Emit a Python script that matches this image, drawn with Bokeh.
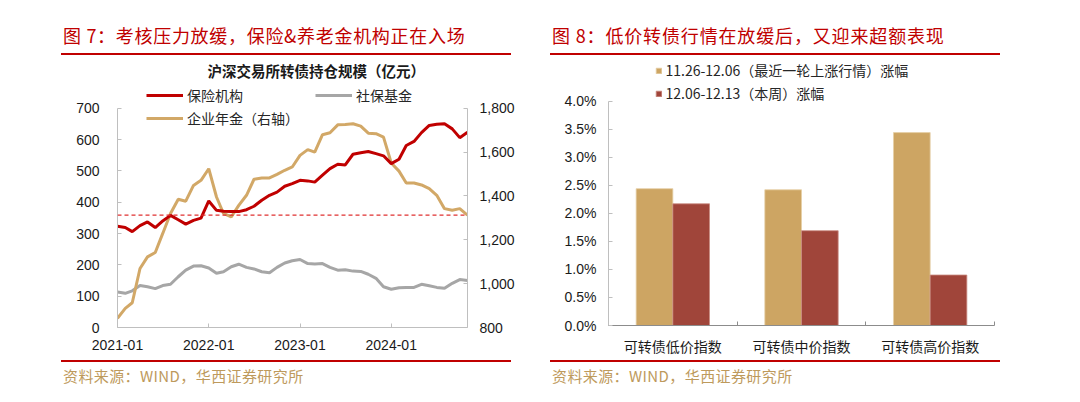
import datetime as dt
from bokeh.plotting import figure
from bokeh.models import (Range1d, LinearAxis, FixedTicker, NumeralTickFormatter,
                          DatetimeTickFormatter, Span, Label, Legend, LegendItem,
                          ColumnDataSource, Div)
from bokeh.layouts import row, column
from bokeh.embed import file_html
from bokeh.resources import INLINE

# ---------------- data ----------------
months = [dt.datetime(2021 + (i // 12), i % 12 + 1, 1) for i in range(47)]  # 2021-01 .. 2024-11
insurance = [323, 319, 306, 325, 337, 319, 340, 358, 344, 330, 342, 349,
             404, 374, 371, 370, 370, 376, 387, 406, 422, 432, 451, 459,
             470, 468, 464, 486, 507, 521, 519, 553, 558, 562, 555, 548,
             523, 537, 581, 594, 622, 645, 649, 650, 634, 606, 623]
social = [113, 109, 117, 134, 130, 124, 134, 138, 162, 183, 196, 197,
          190, 173, 178, 194, 202, 192, 187, 178, 175, 192, 206, 213,
          217, 204, 203, 204, 192, 183, 184, 180, 179, 170, 157, 130,
          122, 127, 128, 128, 138, 133, 128, 125, 141, 153, 150]
annuity = [842, 887, 913, 1069, 1122, 1142, 1229, 1320, 1385, 1376, 1448, 1471,
           1524, 1395, 1320, 1304, 1357, 1403, 1476, 1482, 1482, 1498, 1517, 1532,
           1585, 1611, 1600, 1679, 1688, 1724, 1726, 1729, 1718, 1686, 1684, 1668,
           1550, 1513, 1459, 1459, 1450, 1433, 1403, 1342, 1335, 1342, 1312]
year_ticks = [dt.datetime(2021, 1, 1), dt.datetime(2022, 1, 1),
              dt.datetime(2023, 1, 1), dt.datetime(2024, 1, 1)]
left_ticks = [0, 100, 200, 300, 400, 500, 600, 700]
right_ticks = [800, 1000, 1200, 1400, 1600, 1800]

categories = ["可转债低价指数", "可转债中价指数", "可转债高价指数"]
rally = [0.0244, 0.0242, 0.0344]      # 11.26-12.06
week = [0.0217, 0.0169, 0.0090]       # 12.06-12.13
pct_ticks = [0, 0.005, 0.01, 0.015, 0.02, 0.025, 0.03, 0.035, 0.04]

names = {"ins": "保险机构", "soc": "社保基金", "ann": "企业年金（右轴）",
         "rally": "11.26-12.06（最近一轮上涨行情）涨幅", "week": "12.06-12.13（本周）涨幅"}
title_l = "图 7：考核压力放缓，保险&养老金机构正在入场"
title_r = "图 8：低价转债行情在放缓后，又迎来超额表现"
chart_title_l = "沪深交易所转债持仓规模（亿元）"
source_txt = "资料来源：WIND，华西证券研究所"

RED = "#C00000"
GOLD_LINE = "#D2A867"
GRAY_LINE = "#A6A6A6"
BAR_GOLD = "#CDA563"
BAR_RED = "#A0453A"
SRC_COL = "#BE9A5C"
CJK = "Noto Sans CJK SC"
LAT = "Liberation Sans"
AX = "#BFBFBF"
TXT = "#1a1a1a"

PW = 540            # panel width
TOP_H = 58          # header div height
FIG_H = 300         # figure height
BOT_H = 402 - TOP_H - FIG_H
FT = 2              # frame top inside figure
FB = 269            # frame bottom inside figure (page y 327)
FRAME_H = FB - FT


def ms(d):
    return (d - dt.datetime(1970, 1, 1)).total_seconds() * 1000.0


def header(title, x_text, x0, x1, spacing):
    html = (f'<div style="position:relative;width:{PW}px;height:{TOP_H}px;">'
            f'<div style="position:absolute;left:{x_text}px;top:25px;font-family:\'{CJK}\';'
            f'font-size:18px;line-height:20px;color:{RED};white-space:nowrap;'
            f'letter-spacing:{spacing}px;">{title}</div>'
            f'<div style="position:absolute;left:{x0}px;top:53px;width:{x1 - x0}px;height:2px;'
            f'background:{RED};"></div></div>')
    return Div(text=html, width=PW, height=TOP_H, margin=0)


def footer(x_text, x0, x1):
    html = (f'<div style="position:relative;width:{PW}px;height:{BOT_H}px;">'
            f'<div style="position:absolute;left:{x0}px;top:2px;width:{x1 - x0}px;height:2px;'
            f'background:{RED};"></div>'
            f'<div style="position:absolute;left:{x_text}px;top:9px;font-family:\'{CJK}\';'
            f'font-size:15px;line-height:18px;color:{SRC_COL};white-space:nowrap;'
            f'letter-spacing:0.4px;">{source_txt}</div>'
            f'</div>')
    return Div(text=html, width=PW, height=BOT_H, margin=0)


def style_axis(ax, standoff, color=AX, font=LAT):
    ax.axis_line_color = color
    ax.major_tick_line_color = color
    ax.major_tick_in = 4
    ax.major_tick_out = 0
    ax.minor_tick_line_color = None
    ax.major_label_text_font = font
    ax.major_label_text_font_size = "14px"
    ax.major_label_text_color = TXT
    ax.major_label_standoff = standoff


# ---------------- left chart ----------------
ML = 117
FW = 350
# y of 700 at page 107.7 ; frame top page 60 ; frame bottom page 327
px_per = (FB - (107.7 - TOP_H)) / 700.0
ytop_l = FRAME_H / px_per
ytop_r = 800 + (FRAME_H / px_per) * (1000.0 / 700.0)

pl = figure(width=PW, height=FIG_H, output_backend="svg", toolbar_location=None,
            x_axis_type="datetime",
            x_range=Range1d(months[0], months[-1]), y_range=Range1d(0, ytop_l),
            min_border_left=ML, min_border_right=PW - ML - FW,
            min_border_top=FT, min_border_bottom=FIG_H - FB, margin=0)
pl.outline_line_color = None
pl.xgrid.visible = False
pl.ygrid.visible = False
pl.extra_y_ranges = {"right": Range1d(800, ytop_r)}

src = ColumnDataSource(dict(x=months, ins=insurance, soc=social, ann=annuity))
r_soc = pl.line("x", "soc", source=src, line_color=GRAY_LINE, line_width=3)
r_ann = pl.line("x", "ann", source=src, line_color=GOLD_LINE, line_width=3, y_range_name="right")
r_ins = pl.line("x", "ins", source=src, line_color=RED, line_width=3)

pl.add_layout(Span(location=annuity[-1], dimension="width", y_range_name="right",
                   line_color="#E03030", line_dash="4 3", line_width=1.2))

style_axis(pl.yaxis[0], 18)
pl.yaxis[0].ticker = FixedTicker(ticks=left_ticks)
pl.yaxis[0].bounds = (left_ticks[0], left_ticks[-1])
style_axis(pl.xaxis[0], 12)
pl.xaxis[0].ticker = FixedTicker(ticks=[ms(d) for d in year_ticks])
pl.xaxis[0].formatter = DatetimeTickFormatter(
    years="%Y-%m", months="%Y-%m", days="%Y-%m", hours="%Y-%m", minutes="%Y-%m",
    seconds="%Y-%m", milliseconds="%Y-%m", microseconds="%Y-%m",
    hourmin="%Y-%m", minsec="%Y-%m")

ry = LinearAxis(y_range_name="right", ticker=FixedTicker(ticks=right_ticks),
                formatter=NumeralTickFormatter(format="0,0"),
                bounds=(right_ticks[0], right_ticks[-1]))
style_axis(ry, 12)
pl.add_layout(ry, "right")

# legend: rows centred at page y 94 and 117
leg_l = Legend(items=[LegendItem(label=names["ins"], renderers=[r_ins]),
                      LegendItem(label=names["ann"], renderers=[r_ann]),
                      LegendItem(label=names["soc"], renderers=[r_soc])],
               orientation="vertical", ncols=2,
               location=(146 - ML, (FB + TOP_H) - 128),
               padding=0, margin=0, spacing=3, glyph_width=37, glyph_height=20,
               label_height=20, label_width=125, label_standoff=4,
               label_text_font=CJK, label_text_font_size="14px", label_text_color="#262626",
               border_line_color=None, background_fill_alpha=0)
pl.add_layout(leg_l)

pl.add_layout(Label(x=207 - ML, y=(FB + TOP_H) - 70, x_units="screen", y_units="screen",
                    text=chart_title_l, text_font=CJK, text_font_size="14.5px",
                    text_font_style="bold", text_color=TXT, text_baseline="middle"))

# ---------------- right chart ----------------
ML2 = 68
FW2 = 386
# 4.0% at page 101
px_per2 = (FB - (101 - TOP_H)) / 0.04
ytop_p = FRAME_H / px_per2

pr = figure(width=PW, height=FIG_H, output_backend="svg", toolbar_location=None,
            x_range=Range1d(0, len(categories)), y_range=Range1d(0, ytop_p),
            min_border_left=ML2, min_border_right=PW - ML2 - FW2,
            min_border_top=FT, min_border_bottom=FIG_H - FB, margin=0)
pr.outline_line_color = None
pr.xgrid.visible = False
pr.ygrid.visible = False

centers = [i + 0.5 for i in range(len(categories))]
bw = 0.285
bsrc = ColumnDataSource(dict(xg=[c - bw / 2 for c in centers], xr=[c + bw / 2 for c in centers],
                             rally=rally, week=week))
b1 = pr.vbar(x="xg", top="rally", width=bw, source=bsrc, fill_color=BAR_GOLD,
             line_color="#E6CFA6", line_width=0.8)
b2 = pr.vbar(x="xr", top="week", width=bw, source=bsrc, fill_color=BAR_RED,
             line_color="#C98A80", line_width=0.8)

ya = pr.yaxis[0]
style_axis(ya, 12)
ya.ticker = FixedTicker(ticks=pct_ticks)
ya.formatter = NumeralTickFormatter(format="0.0%")
ya.bounds = (pct_ticks[0], pct_ticks[-1])

xa = pr.xaxis[0]
style_axis(xa, 10, color="#8C8C8C", font=CJK)
xa.ticker = FixedTicker(ticks=centers, minor_ticks=[0, 1, 2, 3])
xa.major_label_overrides = {c: cat for c, cat in zip(centers, categories)}
xa.major_tick_line_color = None
xa.minor_tick_line_color = "#8C8C8C"
xa.minor_tick_in = 4
xa.minor_tick_out = 0

# rows centred at page y 71 and 94
leg_r = Legend(items=[LegendItem(label=names["rally"], renderers=[b1]),
                      LegendItem(label=names["week"], renderers=[b2])],
               location=(654.5 - PW - ML2, (FB + TOP_H) - 105),
               padding=0, margin=0, spacing=3, glyph_width=7, glyph_height=7,
               label_height=20, label_standoff=4,
               label_text_font=CJK, label_text_font_size="14px", label_text_color="#262626",
               border_line_color=None, background_fill_alpha=0)
pr.add_layout(leg_r)

left_panel = column(header(title_l, 63, 61, 511, 0.7), pl, footer(63, 61, 511),
                    spacing=0, margin=0)
right_panel = column(header(title_r, 12, 10, 460, 0.85), pr, footer(12, 10, 460),
                     spacing=0, margin=0)
layout = row(left_panel, right_panel, spacing=0, margin=0)
open("out.html", "w").write(file_html(layout, INLINE))
